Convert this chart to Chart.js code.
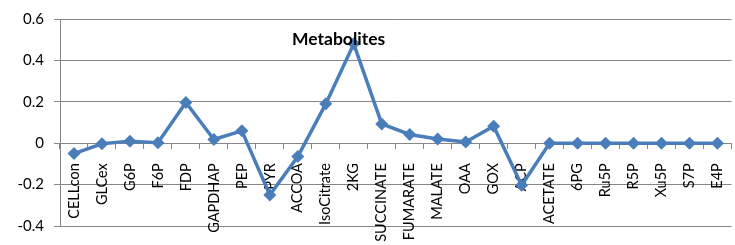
<!DOCTYPE html>
<html>
<head>
<meta charset="utf-8">
<script src="https://cdn.jsdelivr.net/npm/chart.js@4/dist/chart.umd.min.js"></script>
<style>
    html, body { margin: 0; padding: 0; background: #fff; overflow: hidden; }
    #wrap { position: relative; width: 735px; height: 245px; overflow: hidden; }
    #title {
        position: absolute; left: 292px; top: 28px;
        font-family: 'Lato', sans-serif; font-weight: bold; font-size: 17.5px; color: #000;
    }
</style>
</head>
<body>
<div id="wrap">
    <canvas id="chart" width="750" height="245"></canvas>
    <div id="title">Metabolites</div>
</div>
<script>
// metabolite names along the x axis
const metabolites = ['CELLcon', 'GLCex', 'G6P', 'F6P', 'FDP', 'GAPDHAP', 'PEP', 'PYR', 'ACCOA', 'IsoCitrate',
    '2KG', 'SUCCINATE', 'FUMARATE', 'MALATE', 'OAA', 'GOX', 'ACP', 'ACETATE', '6PG', 'Ru5P', 'R5P', 'Xu5P', 'S7P', 'E4P'];

// values
const values = [-0.05, -0.003, 0.01, 0.002, 0.197, 0.018, 0.06, -0.25, -0.064, 0.19,
    0.48, 0.093, 0.042, 0.02, 0.006, 0.082, -0.203, 0, 0, 0, 0, 0, 0, 0];

const yTicks = [-0.4, -0.2, 0, 0.2, 0.4, 0.6];

const gridGray = '#868686';
const lineBlue = '#4a7ebb';

new Chart(document.getElementById('chart'), {
    type: 'line',
    data: {
        labels: metabolites,
        datasets: [{
            data: values,
            borderColor: lineBlue,
            backgroundColor: lineBlue,
            borderWidth: 3.5,
            pointStyle: 'rectRot',
            pointRadius: 6.5,
            pointBorderWidth: 0,
            tension: 0
        }]
    },
    options: {
        responsive: false,
        animation: false,
        layout: { padding: { top: 17, right: 6, bottom: 19, left: 0 } },
        plugins: { legend: { display: false }, tooltip: { enabled: false } },
        scales: {
            y: {
                min: yTicks[0],
                max: yTicks[yTicks.length - 1],
                afterBuildTicks: (scale) => { scale.ticks = yTicks.map(v => ({ value: v })); },
                afterFit: (scale) => { scale.width = 60; },
                ticks: {
                    color: '#000',
                    padding: 10,
                    font: { family: 'Lato', size: 15 },
                    callback: (v) => String(Math.round(v * 10) / 10)
                },
                grid: { color: gridGray, lineWidth: 1, tickLength: 6 },
                border: { color: gridGray }
            },
            x: {
                position: { y: 0 },
                offset: true,
                ticks: {
                    color: '#000',
                    minRotation: 90,
                    maxRotation: 90,
                    autoSkip: false,
                    padding: 15,
                    font: { family: 'Lato', size: 14.5 }
                },
                grid: { drawOnChartArea: false, drawTicks: true, tickLength: 5, offset: true, color: gridGray },
                border: { color: gridGray }
            }
        }
    }
});
</script>
</body>
</html>
